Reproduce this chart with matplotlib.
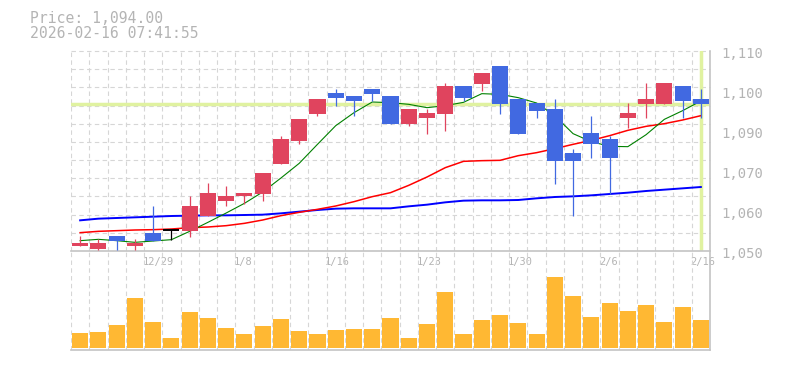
import matplotlib
matplotlib.use("Agg")
import matplotlib.pyplot as plt
from matplotlib.transforms import ScaledTranslation
import numpy as np

# ---------------- data ----------------
dates = ["12/23", "12/24", "12/25", "12/26", "12/29", "12/30", "1/5", "1/6", "1/7", "1/8",
         "1/9", "1/13", "1/14", "1/15", "1/16", "1/19", "1/20", "1/21", "1/22", "1/23",
         "1/26", "1/27", "1/28", "1/29", "1/30", "2/2", "2/3", "2/4", "2/5", "2/6",
         "2/9", "2/10", "2/12", "2/13", "2/16"]

opens = [1051.5, 1050.5, 1054.5, 1051.5, 1055.5, 1056.3, 1056.0, 1060.5, 1065.0, 1066.5,
         1067.0, 1076.0, 1083.0, 1091.0, 1097.5, 1096.5, 1098.5, 1096.5, 1088.0, 1090.0,
         1091.0, 1099.5, 1100.0, 1105.5, 1095.5, 1094.5, 1092.5, 1079.5, 1085.5, 1083.5,
         1090.0, 1094.0, 1094.0, 1099.5, 1095.5]
highs = [1054.5, 1053.5, 1054.5, 1053.5, 1063.5, 1056.3, 1066.5, 1070.5, 1069.5, 1067.5,
         1073.5, 1084.5, 1089.5, 1095.5, 1098.5, 1096.5, 1098.5, 1096.5, 1092.5, 1092.5,
         1100.5, 1099.5, 1103.5, 1105.5, 1095.5, 1094.5, 1095.5, 1080.5, 1090.5, 1084.5,
         1094.5, 1100.5, 1100.5, 1099.5, 1098.5]
lows = [1051.5, 1050.3, 1050.3, 1050.3, 1053.0, 1053.3, 1054.3, 1060.5, 1063.5, 1064.0,
        1065.0, 1076.0, 1082.0, 1090.5, 1093.5, 1090.5, 1095.0, 1088.0, 1087.5, 1085.0,
        1086.0, 1095.0, 1098.0, 1091.0, 1085.0, 1090.0, 1070.0, 1060.5, 1078.0, 1067.0,
        1087.0, 1090.0, 1094.0, 1090.0, 1090.0]
closes = [1052.5, 1052.5, 1053.0, 1052.5, 1053.0, 1056.3, 1063.5, 1067.5, 1066.5, 1067.5,
          1073.5, 1083.5, 1089.5, 1095.5, 1096.0, 1095.0, 1097.0, 1088.0, 1092.5, 1091.5,
          1099.5, 1096.0, 1103.5, 1094.0, 1085.0, 1092.0, 1077.0, 1077.0, 1082.0, 1078.0,
          1091.5, 1095.5, 1100.5, 1095.0, 1094.0]
volumes = [15, 16, 23, 50, 26, 10, 36, 30, 20, 14, 22, 29, 17, 14, 18, 19, 19, 30, 10, 24,
           56, 14, 28, 33, 25, 14, 71, 52, 31, 45, 37, 43, 26, 41, 28]

ma_short = [1053.1, 1053.5, 1053.1, 1052.6, 1053.0, 1053.4, 1055.9, 1058.6, 1061.4, 1064.3,
            1067.7, 1071.9, 1076.3, 1082.0, 1087.6, 1091.5, 1094.7, 1094.5, 1094.0, 1093.0,
            1093.6, 1094.6, 1097.2, 1097.0, 1096.0, 1094.4, 1090.6, 1085.2, 1082.8, 1081.4,
            1081.3, 1084.9, 1089.5, 1092.1, 1095.0]
ma_mid = [1055.5, 1055.9, 1056.1, 1056.3, 1056.4, 1056.6, 1057.0, 1057.2, 1057.6, 1058.3,
          1059.3, 1060.6, 1061.6, 1062.5, 1063.5, 1064.8, 1066.3, 1067.5, 1069.7, 1072.2,
          1075.0, 1076.9, 1077.1, 1077.2, 1078.6, 1079.5, 1080.7, 1082.0, 1083.2, 1084.6,
          1086.2, 1087.4, 1088.2, 1089.3, 1090.6]
ma_long = [1059.2, 1059.7, 1059.9, 1060.1, 1060.3, 1060.5, 1060.6, 1060.7, 1060.7, 1060.8,
           1060.9, 1061.3, 1061.8, 1062.3, 1062.7, 1062.8, 1062.8, 1062.8, 1063.4, 1063.9,
           1064.6, 1065.1, 1065.2, 1065.2, 1065.3, 1065.8, 1066.2, 1066.4, 1066.7, 1067.1,
           1067.5, 1068.0, 1068.4, 1068.8, 1069.2]

current_price = 1094.0
price_label = "Price: 1,094.00"
time_label = "2026-02-16 07:41:55"

ytick_values = [1050, 1062, 1074, 1086, 1098, 1110]
ytick_labels = ["1,050", "1,060", "1,070", "1,090", "1,100", "1,110"]
xtick_index = [4, 9, 14, 19, 24, 29, 34]
xtick_labels = ["12/29", "1/8", "1/16", "1/23", "1/30", "2/6", "2/16"]

# ---------------- style ----------------
UP = "#e0445e"
DOWN = "#4169e1"
VOLC = "#ffb833"
HL = "#e0f2a0"
GRID = "#d6d6d6"
SPINE = "#c4c4c4"
TXT = "#b4b4b4"
plt.rcParams["font.family"] = ["DejaVu Sans Mono"]

W, H = 785, 370
fig = plt.figure(figsize=(W / 100, H / 100), dpi=100)


def px_axes(left, top, right, bottom):
    return fig.add_axes([left / W, 1 - bottom / H, (right - left) / W, (bottom - top) / H])


ax = px_axes(71, 51, 710, 251)
axv = px_axes(71, 251, 710, 350)
axv.patch.set_visible(False)

n = len(closes)
x = np.arange(n)
ymin, ymax = 1050, 1110
ax.set_xlim(-0.5, n - 0.5)
ax.set_ylim(ymin, ymax)
axv.set_xlim(-0.5, n - 0.5)
axv.set_ylim(-2, 97)

dash = (0, (4, 3))
# grid
for k in range(n):
    ax.axvline(k - 0.5, color=GRID, lw=0.8, ls=dash, zorder=0)
    axv.axvline(k - 0.5, color=GRID, lw=0.8, ls=dash, zorder=0)
for k in range(1, 12):
    ax.axhline(ymin + k * (ymax - ymin) / 11, color=GRID, lw=0.8, ls=dash, zorder=0, clip_on=False)

# current price lines
ax.axhline(current_price, color=HL, lw=2.5, zorder=1)
ax.axvline(x[-1], color=HL, lw=2.5, zorder=1)

# moving averages
ax.plot(x, ma_long, color="blue", lw=1.4, zorder=2)
ax.plot(x, ma_mid, color="red", lw=1.1, zorder=2)
ax.plot(x, ma_short, color="green", lw=0.8, zorder=2)

# candles
o = np.array(opens)
c = np.array(closes)
cols = [UP if cc > oo else (DOWN if cc < oo else "black") for oo, cc in zip(o, c)]
ax.vlines(x, lows, highs, colors=cols, lw=0.9, zorder=3)
ax.bar(x, np.abs(c - o), bottom=np.minimum(o, c), width=0.88, color=cols, zorder=4)
doji = [i for i in range(n) if o[i] == c[i]]
ax.hlines([c[i] for i in doji], [i - 0.44 for i in doji], [i + 0.44 for i in doji],
          colors="black", lw=1.4, zorder=4)

# volume
axv.bar(x, volumes, width=0.88, color=VOLC, zorder=3)

for a in (ax, axv):
    a.spines["top"].set_visible(False)
    a.spines["left"].set_visible(False)
    a.spines["bottom"].set_color(SPINE)
    a.spines["right"].set_color(SPINE)
    a.spines["bottom"].set_linewidth(1.2)
    a.spines["right"].set_linewidth(1.2)

# ticks
ax.yaxis.tick_right()
ax.set_yticks(ytick_values)
ax.set_yticklabels(ytick_labels)
ax.tick_params(axis="y", length=0, pad=7.9, labelsize=10, labelcolor=TXT)
for lbl in ax.get_yticklabels():
    lbl.set_transform(lbl.get_transform() + ScaledTranslation(0, -2 / 100, fig.dpi_scale_trans))

ax.set_xticks([i - 0.5 for i in xtick_index])
ax.set_xticklabels(xtick_labels)
ax.tick_params(axis="x", length=0, pad=4, labelsize=7.5, labelcolor=TXT)
for lbl in ax.get_xticklabels():
    lbl.set_horizontalalignment("left")
    lbl.set_transform(lbl.get_transform() + ScaledTranslation(-1.5 / 100, 0, fig.dpi_scale_trans))

axv.set_xticks([])
axv.set_yticks([])

fig.text(30 / W, 1 - 23.3 / H, price_label, va="baseline", ha="left", fontsize=10.6, color=TXT)
fig.text(30 / W, 1 - 38.3 / H, time_label, va="baseline", ha="left", fontsize=10.6, color=TXT)

fig.savefig("out.png", dpi=100, facecolor="white")
